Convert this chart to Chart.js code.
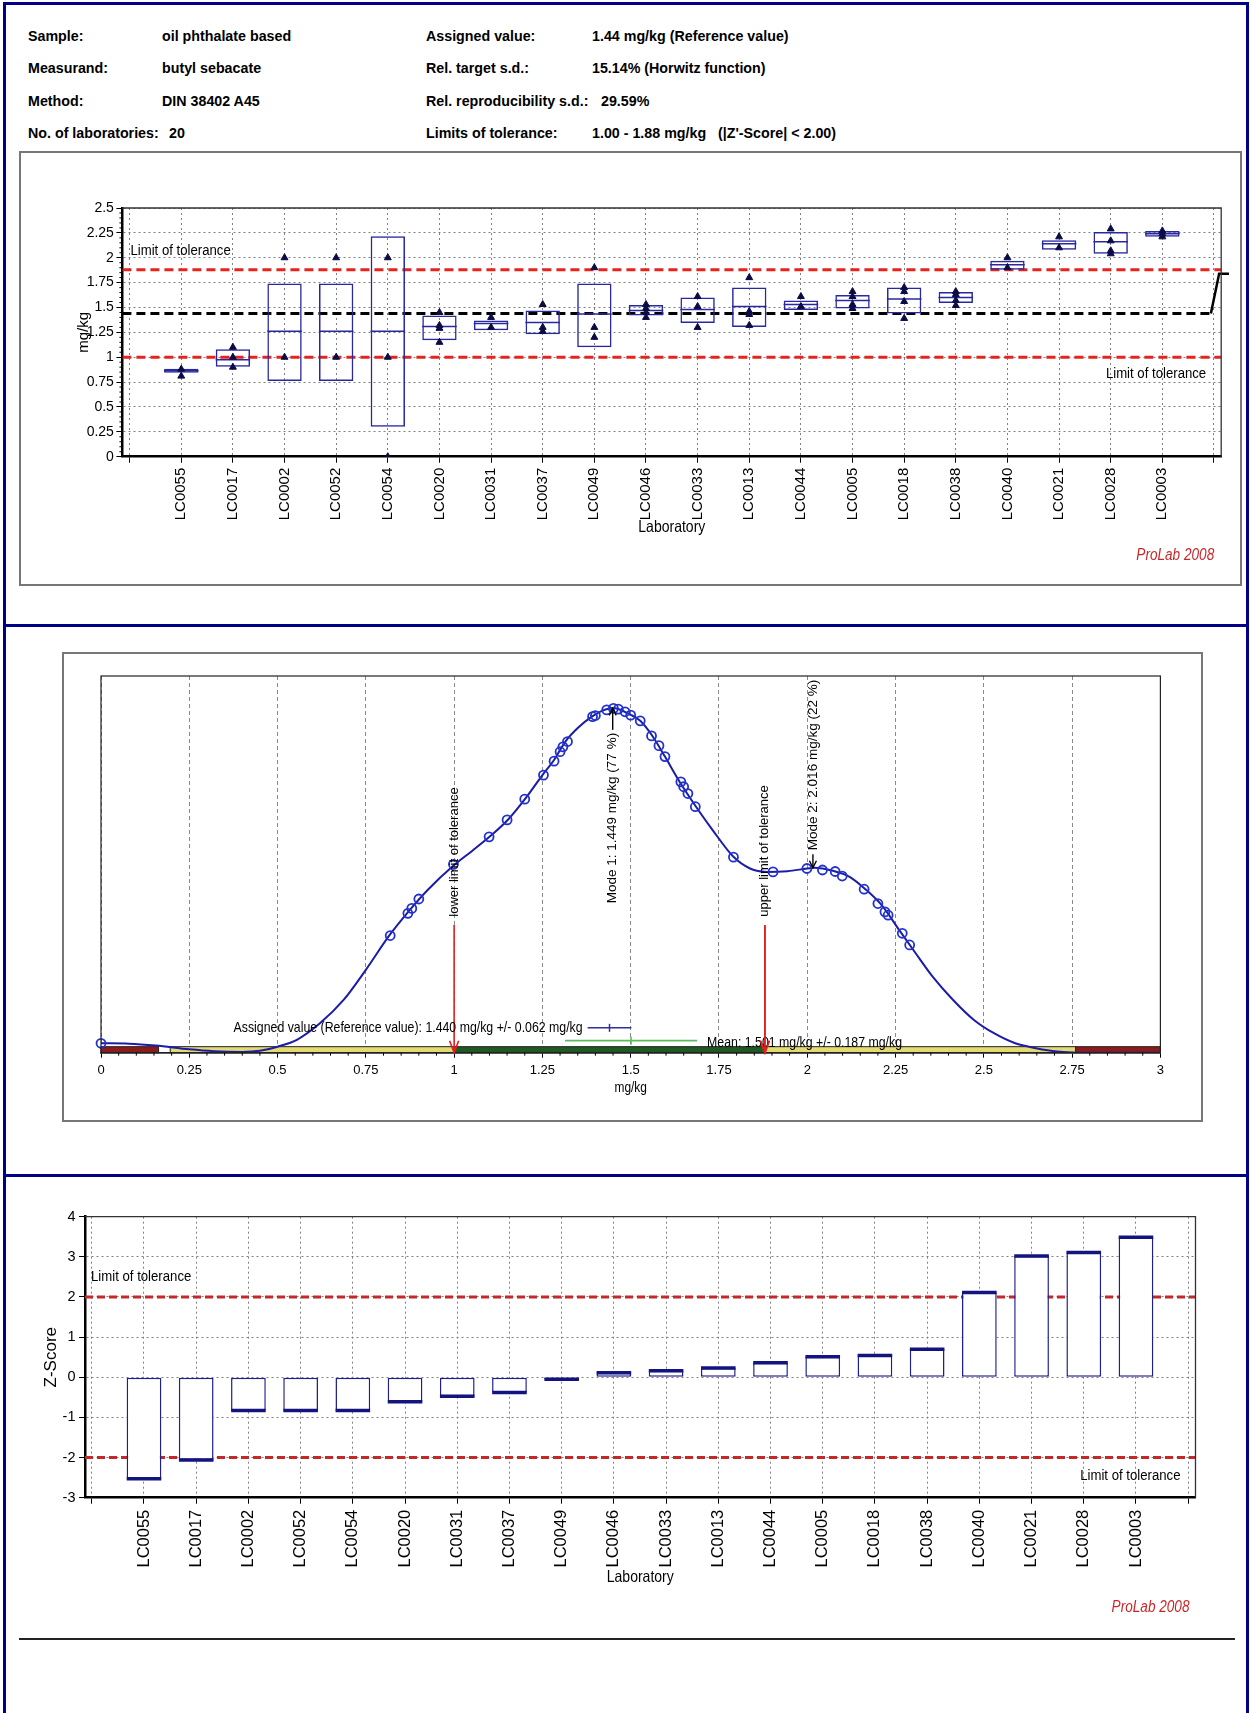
<!DOCTYPE html>
<html lang="en"><head><meta charset="utf-8"><title>ProLab 2008 - butyl sebacate</title>
<script src="https://cdn.jsdelivr.net/npm/chart.js@4.4.0/dist/chart.umd.min.js"></script>
<style>
html,body{margin:0;padding:0;background:#fff;}
body{position:relative;width:1251px;height:1713px;overflow:hidden;}
.box{position:absolute;box-sizing:border-box;}
.hdr{position:absolute;font-family:'Liberation Sans',Arial,sans-serif;font-weight:bold;font-size:15.5px;line-height:20px;white-space:pre;color:#000;transform:scaleX(0.92);transform-origin:0 50%;}
canvas{position:absolute;}
</style></head><body>
<div class="box" style="left:3px;top:2px;width:1246px;height:1730px;border:3px solid #00008B;border-bottom:none"></div>
<div class="box" style="left:3px;top:624px;width:1246px;height:3px;background:#00008B"></div>
<div class="box" style="left:3px;top:1174px;width:1246px;height:3px;background:#00008B"></div>
<div class="box" style="left:19px;top:151px;width:1223px;height:435px;border:2px solid #777"></div>
<div class="box" style="left:62px;top:652px;width:1141px;height:470px;border:2px solid #777"></div>
<div class="box" style="left:19px;top:1638px;width:1216px;height:2px;background:#222"></div>

<div class="hdr" style="left:28px;top:26px">Sample:</div>
<div class="hdr" style="left:162px;top:26px">oil phthalate based</div>
<div class="hdr" style="left:426px;top:26px">Assigned value:</div>
<div class="hdr" style="left:592px;top:26px">1.44 mg/kg (Reference value)</div>
<div class="hdr" style="left:28px;top:58px">Measurand:</div>
<div class="hdr" style="left:162px;top:58px">butyl sebacate</div>
<div class="hdr" style="left:426px;top:58px">Rel. target s.d.:</div>
<div class="hdr" style="left:592px;top:58px">15.14% (Horwitz function)</div>
<div class="hdr" style="left:28px;top:91px">Method:</div>
<div class="hdr" style="left:162px;top:91px">DIN 38402 A45</div>
<div class="hdr" style="left:426px;top:91px">Rel. reproducibility s.d.:</div>
<div class="hdr" style="left:601px;top:91px">29.59%</div>
<div class="hdr" style="left:28px;top:123px">No. of laboratories:</div>
<div class="hdr" style="left:169px;top:123px">20</div>
<div class="hdr" style="left:426px;top:123px">Limits of tolerance:</div>
<div class="hdr" style="left:592px;top:123px">1.00 - 1.88 mg/kg   (|Z'-Score| &lt; 2.00)</div>

<canvas id="c1" width="1218" height="428" style="left:22px;top:155px"></canvas>
<canvas id="c2" width="1128" height="462" style="left:70px;top:656px"></canvas>
<canvas id="c3" width="1218" height="440" style="left:22px;top:1185px"></canvas>

<script>
// ---------------- data ----------------
const labs = ['LC0055','LC0017','LC0002','LC0052','LC0054','LC0020','LC0031','LC0037','LC0049','LC0046',
              'LC0033','LC0013','LC0044','LC0005','LC0018','LC0038','LC0040','LC0021','LC0028','LC0003'];
const boxLow  = [0.845,0.905,0.76,0.76,0.30,1.17,1.27,1.23,1.10,1.42,1.345,1.305,1.475,1.49,1.44,1.545,1.88,2.08,2.04,2.21];
const boxHigh = [0.885,1.08,1.74,1.74,2.215,1.42,1.37,1.47,1.74,1.525,1.60,1.70,1.57,1.625,1.70,1.655,1.97,2.175,2.26,2.27];
const boxMid  = [0.865,0.975,1.26,1.26,1.26,1.31,1.34,1.35,1.435,1.47,1.48,1.51,1.53,1.57,1.585,1.60,1.93,2.14,2.16,2.24];
const labValues = [[0.88,0.81],[1.10,1.00,0.90],[2.00,1.00],[2.00,1.00],[2.00,1.00,0.00],[1.45,1.32,1.29,1.15],
                   [1.40,1.30],[1.53,1.30,1.26],[1.90,1.30,1.20],[1.53,1.49,1.45,1.40],[1.61,1.51,1.30],
                   [1.80,1.46,1.43,1.32],[1.61,1.51],[1.66,1.61,1.53,1.49],[1.70,1.66,1.56,1.39],
                   [1.66,1.63,1.57,1.52],[2.00,1.90],[2.21,2.10],[2.29,2.17,2.07,2.04],[2.27,2.24,2.21]];
const toleranceLimits = [1.00, 1.88];
const assignedValue = 1.44;
const assignedUnc = 0.062;
const meanValue = 1.501;
const meanUnc = 0.187;
const assignedTailX = [20.94, 21.10, 21.29];
const assignedTailY = [1.44, 1.84, 1.84];
const labTickPositions = [0,1,2,3,4,5,6,7,8,9,10,11,12,13,14,15,16,17,18,19,20,21];
const yTicksTop = [0,0.25,0.5,0.75,1,1.25,1.5,1.75,2,2.25,2.5];

// kernel density curve (relative height)
const densityX = [0,0.08,0.155,0.25,0.32,0.40,0.45,0.50,0.556,0.62,0.687,0.75,0.817,0.87,0.925,1.00,1.05,1.10,1.153,1.202,
                  1.25,1.283,1.315,1.35,1.39,1.42,1.449,1.50,1.527,1.562,1.597,1.638,1.685,1.732,1.791,1.838,1.885,1.944,
                  2.00,2.02,2.073,2.12,2.167,2.214,2.26,2.307,2.355,2.413,2.472,2.53,2.589,2.648,2.707,2.765,2.85,3.00];
const densityY = [0.025,0.024,0.019,0.009,0.004,0.002,0.005,0.016,0.035,0.078,0.14,0.22,0.312,0.374,0.432,0.498,0.535,0.573,0.619,0.675,
                  0.737,0.777,0.826,0.862,0.892,0.908,0.915,0.897,0.881,0.84,0.786,0.72,0.653,0.591,0.52,0.489,0.48,0.482,
                  0.489,0.491,0.483,0.467,0.432,0.388,0.326,0.264,0.202,0.14,0.087,0.051,0.025,0.012,0.003,0,0,0];
const circleX = [0.0,0.819,0.869,0.88,0.90,0.998,1.099,1.15,1.20,1.253,1.283,1.30,1.308,1.321,1.392,1.40,1.432,1.451,1.465,1.484,
                 1.50,1.527,1.559,1.58,1.597,1.642,1.65,1.662,1.683,1.791,1.903,1.999,2.043,2.079,2.099,2.161,2.20,2.22,2.229,2.269,2.29];
const circleY = [0.025,0.311,0.37,0.383,0.408,0.50,0.573,0.618,0.673,0.737,0.774,0.799,0.812,0.826,0.892,0.895,0.91,0.914,0.912,0.905,
                 0.896,0.881,0.841,0.815,0.786,0.719,0.706,0.688,0.653,0.519,0.48,0.489,0.485,0.481,0.469,0.434,0.396,0.374,0.365,0.317,0.286];
const bandFrom = [0, 0.196, 1.00, 1.88, 2.76];
const bandTo   = [0.163, 1.00, 1.88, 2.76, 3.00];
const bandColors = ['#8E1B1B','#E4DA72','#1F5A22','#E4DA72','#8E1B1B'];
const modeX = [1.449, 2.016];
const modeDensity = [0.914, 0.491];
const modeArrowTail = [0.857, 0.527];
const modeLabels = ['Mode 1: 1.449 mg/kg (77 %)', 'Mode 2: 2.016 mg/kg (22 %)'];
const limitLabels = ['lower limit of tolerance', 'upper limit of tolerance'];
const xTicksMid = [0,0.25,0.5,0.75,1,1.25,1.5,1.75,2,2.25,2.5,2.75,3];

// z-scores
const zScores = [-2.53,-2.06,-0.83,-0.83,-0.83,-0.61,-0.47,-0.38,-0.05,0.11,0.16,0.23,0.36,0.51,0.54,0.70,2.11,3.02,3.11,3.49];
const zLimits = [-2, 2];
const zTicks = [-3,-2,-1,0,1,2,3,4];

// ---------------- helpers ----------------
const FR = "'Liberation Sans', Arial, 'DejaVu Sans', sans-serif";
Chart.defaults.font.family = FR;
Chart.defaults.color = '#000';
const NAVY = '#2828A0';
const SX = 0.85; // the original's lettering is horizontally condensed
const fmt = v => String(+(+v).toFixed(2));

function vArrow(ctx, x, yTail, yTip, headLen, headHalf) {
  ctx.beginPath(); ctx.moveTo(x, yTail); ctx.lineTo(x, yTip); ctx.stroke();
  const d = yTip > yTail ? -1 : 1;
  ctx.beginPath(); ctx.moveTo(x - headHalf, yTip + d * headLen); ctx.lineTo(x, yTip); ctx.lineTo(x + headHalf, yTip + d * headLen); ctx.stroke();
}
function vText(ctx, t, x, y, align) {
  ctx.save(); ctx.translate(x, y); ctx.rotate(-Math.PI / 2);
  ctx.textAlign = align; ctx.textBaseline = 'middle'; ctx.fillText(t, 0, 0); ctx.restore();
}
function hText(ctx, t, x, y, align) {
  ctx.save(); ctx.translate(x, y); ctx.scale(SX, 1);
  ctx.textAlign = align; ctx.textBaseline = 'middle'; ctx.fillText(t, 0, 0); ctx.restore();
}
function hLines(chart, values, color, width, dash) {
  const {ctx, chartArea: a, scales: {y}} = chart;
  ctx.save();
  ctx.beginPath(); ctx.rect(a.left, a.top, a.right - a.left, a.bottom - a.top); ctx.clip();
  ctx.strokeStyle = color; ctx.lineWidth = width; ctx.setLineDash(dash);
  values.forEach(v => { const py = y.getPixelForValue(v); ctx.beginPath(); ctx.moveTo(a.left, py); ctx.lineTo(a.right, py); ctx.stroke(); });
  ctx.restore();
}
function frameTR(chart) {
  const {ctx, chartArea: a} = chart;
  ctx.save(); ctx.strokeStyle = '#333'; ctx.lineWidth = 1.3;
  ctx.beginPath(); ctx.moveTo(a.left, a.top); ctx.lineTo(a.right, a.top); ctx.lineTo(a.right, a.bottom); ctx.stroke();
  ctx.restore();
}
const baseOpts = {responsive:false, maintainAspectRatio:false, animation:false, devicePixelRatio:1, events:[],
  plugins:{legend:{display:false}, tooltip:{enabled:false}}};

// ---------------- chart 1: results per laboratory ----------------
const topDecor = {
  id: 'topDecor',
  beforeDatasetsDraw(chart) {
    hLines(chart, toleranceLimits, '#E8231E', 3, [9, 5]);
    const {ctx, chartArea: a, scales: {x, y}} = chart;
    ctx.save();
    ctx.strokeStyle = '#000'; ctx.lineWidth = 3; ctx.setLineDash([9, 5]);
    const py = y.getPixelForValue(assignedValue);
    ctx.beginPath(); ctx.moveTo(a.left, py); ctx.lineTo(x.getPixelForValue(assignedTailX[0]), py); ctx.stroke();
    ctx.setLineDash([]); ctx.lineWidth = 2.5;
    ctx.beginPath(); ctx.moveTo(x.getPixelForValue(assignedTailX[0]), y.getPixelForValue(assignedTailY[0]));
    for (let i = 1; i < assignedTailX.length; i++) ctx.lineTo(x.getPixelForValue(assignedTailX[i]), y.getPixelForValue(assignedTailY[i]));
    ctx.stroke();
    ctx.restore();
  },
  afterDraw(chart) {
    frameTR(chart);
    const {ctx, chartArea: a, scales: {y}} = chart;
    ctx.save();
    ctx.strokeStyle = '#000'; ctx.lineWidth = 1;
    for (let k = 1; k < 50; k++) { if (k % 5 === 0) continue; const py = y.getPixelForValue(k * 0.05);
      ctx.beginPath(); ctx.moveTo(a.left - 3, py); ctx.lineTo(a.left, py); ctx.stroke(); }
    ctx.fillStyle = '#000';
    ctx.font = `15.5px ${FR}`;
    hText(ctx, 'Limit of tolerance', a.left + 8, y.getPixelForValue(toleranceLimits[1]) - 19, 'left');
    hText(ctx, 'Limit of tolerance', a.right - 15, y.getPixelForValue(toleranceLimits[0]) + 16, 'right');
    ctx.font = `15px ${FR}`; vText(ctx, 'mg/kg', a.left - 39, (a.top + a.bottom) / 2, 'center');
    ctx.font = `16.5px ${FR}`; hText(ctx, 'Laboratory', (a.left + a.right) / 2, a.bottom + 71, 'center');
    ctx.font = `italic 16px ${FR}`; ctx.fillStyle = '#C8282A';
    hText(ctx, 'ProLab 2008', a.right - 7, a.bottom + 99, 'right');
    ctx.restore();
  }
};

new Chart(document.getElementById('c1'), {
  type: 'bar',
  data: {datasets: [
    {type:'bar', data: labs.map((l, i) => ({x: i + 1, y: [boxLow[i], boxHigh[i]]})),
     backgroundColor:'rgba(255,255,255,0)', borderColor: NAVY, borderWidth:1.5, borderSkipped:false,
     barPercentage:1, categoryPercentage:0.665, order:3},
    {type:'scatter', data: labs.map((l, i) => ({x: i + 1, y: boxMid[i]})),
     pointStyle:'line', pointRadius:17.3, pointBorderWidth:1.5, pointBorderColor: NAVY, order:2},
    {type:'scatter', data: labValues.flatMap((vals, i) => vals.map(v => ({x: i + 1, y: v}))),
     pointStyle:'triangle', pointRadius:4, pointBackgroundColor:'#0B0B45', pointBorderColor:'#0B0B45', pointBorderWidth:1, order:1}
  ]},
  options: Object.assign({}, baseOpts, {
    layout: {padding: {left:0, right:13, top:53, bottom:0}},
    scales: {
      x: {type:'linear', min:-0.14, max:21.14, offset:false,
        afterBuildTicks: s => { s.ticks = labTickPositions.map(v => ({value: v})); },
        afterFit: s => { s.height = 126.3; },
        ticks: {autoSkip:false, minRotation:90, maxRotation:90, padding:5, color:'#000', font:{family:FR, size:15},
                callback: v => labs[v - 1] || ''},
        grid: {offset:false, color:'#808080', lineWidth:1, tickLength:6, tickColor:'#000', tickWidth:1, tickBorderDash:[]},
        border: {display:true, color:'#000', width:2.5, dash:[2,3]}},
      y: {type:'linear', min:0, max:2.5,
        afterBuildTicks: s => { s.ticks = yTicksTop.map(v => ({value: v})); },
        afterFit: s => { s.width = 100.4; },
        ticks: {padding:2.5, color:'#000', font:{family:FR, size:14}, callback: v => fmt(v)},
        grid: {color:'#808080', lineWidth:1, tickLength:6, tickColor:'#000', tickWidth:1, tickBorderDash:[]},
        border: {display:true, color:'#000', width:2.5, dash:[2,3]}}
    }
  }),
  plugins: [topDecor]
});

// ---------------- chart 2: kernel density ----------------
const midDecor = {
  id: 'midDecor',
  beforeDatasetsDraw(chart) {
    const {ctx, scales: {x, y}} = chart;
    ctx.save();
    const y0 = y.getPixelForValue(0.016), y1 = y.getPixelForValue(0);
    ctx.strokeStyle = '#222'; ctx.lineWidth = 1;
    for (let i = 0; i < bandFrom.length; i++) {
      const x0 = x.getPixelForValue(bandFrom[i]), x1 = x.getPixelForValue(bandTo[i]);
      ctx.fillStyle = bandColors[i]; ctx.fillRect(x0, y0, x1 - x0, y1 - y0);
      ctx.strokeRect(x0, y0, x1 - x0, y1 - y0);
    }
    ctx.restore();
  },
  afterDraw(chart) {
    const {ctx, chartArea: a, scales: {x, y}} = chart;
    ctx.save();
    ctx.strokeStyle = '#222'; ctx.lineWidth = 1.2; ctx.strokeRect(a.left, a.top, a.right - a.left, a.bottom - a.top);
    ctx.lineWidth = 1; ctx.strokeStyle = '#000';
    for (let k = 1; k < 60; k++) { if (k % 5 === 0) continue; const px = x.getPixelForValue(k * 0.05);
      ctx.beginPath(); ctx.moveTo(px, a.bottom); ctx.lineTo(px, a.bottom + 3); ctx.stroke(); }
    // tolerance arrows + labels
    ctx.strokeStyle = '#E02020'; ctx.lineWidth = 1.6;
    toleranceLimits.forEach(v => vArrow(ctx, x.getPixelForValue(v), y.getPixelForValue(0.339), y.getPixelForValue(0), 12, 4.5));
    ctx.fillStyle = '#000'; ctx.font = `13px ${FR}`;
    limitLabels.forEach((t, i) => vText(ctx, t, x.getPixelForValue(toleranceLimits[i]), y.getPixelForValue(0.361), 'left'));
    // modes
    ctx.font = `13.5px ${FR}`;
    ctx.strokeStyle = '#000'; ctx.lineWidth = 1.4;
    vArrow(ctx, x.getPixelForValue(modeX[0]), y.getPixelForValue(modeArrowTail[0]), y.getPixelForValue(modeDensity[0]), 7, 3.5);
    vText(ctx, modeLabels[0], x.getPixelForValue(modeX[0]), y.getPixelForValue(modeArrowTail[0]) + 3, 'right');
    vArrow(ctx, x.getPixelForValue(modeX[1]), y.getPixelForValue(modeArrowTail[1]), y.getPixelForValue(modeDensity[1]), 7, 3.5);
    vText(ctx, modeLabels[1], x.getPixelForValue(modeX[1]), y.getPixelForValue(modeArrowTail[1]) - 4, 'left');
    // assigned value bar
    const ay = y.getPixelForValue(0.066);
    const aLo = x.getPixelForValue(assignedValue - assignedUnc), aHi = x.getPixelForValue(assignedValue + assignedUnc);
    ctx.strokeStyle = '#3030A0'; ctx.lineWidth = 1.5;
    ctx.beginPath(); ctx.moveTo(aLo, ay); ctx.lineTo(aHi, ay); ctx.stroke();
    const ac = x.getPixelForValue(assignedValue);
    ctx.beginPath(); ctx.moveTo(ac, ay - 4); ctx.lineTo(ac, ay + 4); ctx.stroke();
    ctx.font = `14.5px ${FR}`;
    hText(ctx, 'Assigned value (Reference value): 1.440 mg/kg +/- 0.062 mg/kg', aLo - 5, ay, 'right');
    // mean bar
    const my = y.getPixelForValue(0.032);
    const mLo = x.getPixelForValue(meanValue - meanUnc), mHi = x.getPixelForValue(meanValue + meanUnc);
    ctx.strokeStyle = '#5DBB5D'; ctx.lineWidth = 1.6;
    ctx.beginPath(); ctx.moveTo(mLo, my); ctx.lineTo(mHi, my); ctx.stroke();
    const mc = x.getPixelForValue(meanValue);
    ctx.beginPath(); ctx.moveTo(mc, my - 4); ctx.lineTo(mc, my + 4); ctx.stroke();
    hText(ctx, 'Mean: 1.501 mg/kg +/- 0.187 mg/kg', mHi + 10, y.getPixelForValue(0.026), 'left');
    // the upper tolerance arrow runs over the mean text, as in the original
    ctx.strokeStyle = '#E02020'; ctx.lineWidth = 1.6;
    vArrow(ctx, x.getPixelForValue(toleranceLimits[1]), y.getPixelForValue(0.339), y.getPixelForValue(0), 12, 4.5);
    ctx.font = `14px ${FR}`;
    hText(ctx, 'mg/kg', (a.left + a.right) / 2, a.bottom + 35, 'center');
    ctx.restore();
  }
};

new Chart(document.getElementById('c2'), {
  type: 'line',
  data: {datasets: [
    {type:'line', data: densityX.map((v, i) => ({x: v, y: densityY[i]})), borderColor:'#1C1CA8', borderWidth:2,
     pointRadius:0, cubicInterpolationMode:'monotone', fill:false, order:2},
    {type:'scatter', data: circleX.map((v, i) => ({x: v, y: circleY[i]})), pointStyle:'circle', pointRadius:4.5,
     pointBorderWidth:1.8, pointBorderColor:'#2233CC', pointBackgroundColor:'rgba(0,0,0,0)', clip:8, order:1}
  ]},
  options: Object.assign({}, baseOpts, {
    layout: {padding: {left:31, right:37.6, top:20, bottom:0}},
    scales: {
      x: {type:'linear', min:0, max:3,
        afterBuildTicks: s => { s.ticks = xTicksMid.map(v => ({value: v})); },
        afterFit: s => { s.height = 65.3; },
        ticks: {autoSkip:false, maxRotation:0, padding:5, color:'#000', font:{family:FR, size:13}, callback: v => fmt(v)},
        grid: {color:'#8a8a8a', lineWidth:1, tickLength:5, tickColor:'#000', tickWidth:1, tickBorderDash:[]},
        border: {display:true, color:'#000', width:1.5, dash:[4,3]}},
      y: {type:'linear', display:false, min:0, max:1}
    }
  }),
  plugins: [midDecor]
});

// ---------------- chart 3: z-scores ----------------
const zDecor = {
  id: 'zDecor',
  beforeDatasetsDraw(chart) { hLines(chart, zLimits, '#C42828', 3, [8, 4]); },
  afterDraw(chart) {
    frameTR(chart);
    const {ctx, chartArea: a, scales: {y}} = chart;
    ctx.save();
    ctx.fillStyle = '#000'; ctx.font = `15.5px ${FR}`;
    hText(ctx, 'Limit of tolerance', a.left + 6, y.getPixelForValue(zLimits[1]) - 20, 'left');
    hText(ctx, 'Limit of tolerance', a.right - 15, y.getPixelForValue(zLimits[0]) + 18, 'right');
    ctx.font = `17px ${FR}`; vText(ctx, 'Z-Score', a.left - 34, (a.top + a.bottom) / 2, 'center');
    ctx.font = `16.5px ${FR}`; hText(ctx, 'Laboratory', (a.left + a.right) / 2, a.bottom + 80, 'center');
    ctx.font = `italic 16px ${FR}`; ctx.fillStyle = '#C8282A';
    hText(ctx, 'ProLab 2008', a.right - 6, a.bottom + 110, 'right');
    ctx.restore();
  }
};

new Chart(document.getElementById('c3'), {
  type: 'bar',
  data: {datasets: [
    {type:'bar', data: zScores.map((z, i) => ({x: i + 1, y: [0, z]})), backgroundColor:'#fff', borderColor:'#1F1F8F',
     borderWidth:1.5, borderSkipped:false, barPercentage:1, categoryPercentage:0.665, order:2},
    {type:'scatter', data: zScores.map((z, i) => ({x: i + 1, y: z})), pointStyle:'line', pointRadius:17.3,
     pointBorderWidth:3.5, pointBorderColor:'#141480', order:1}
  ]},
  options: Object.assign({}, baseOpts, {
    layout: {padding: {left:0, right:44.5, top:31.7, bottom:0}},
    scales: {
      x: {type:'linear', min:-0.13, max:21.14, offset:false,
        afterBuildTicks: s => { s.ticks = labTickPositions.map(v => ({value: v})); },
        afterFit: s => { s.height = 127.3; },
        ticks: {autoSkip:false, minRotation:90, maxRotation:90, padding:6, color:'#000', font:{family:FR, size:16.5},
                callback: v => labs[v - 1] || ''},
        grid: {offset:false, color:'#808080', lineWidth:1, tickLength:6, tickColor:'#000', tickWidth:1, tickBorderDash:[]},
        border: {display:true, color:'#000', width:2.5, dash:[2,3]}},
      y: {type:'linear', min:-3, max:4,
        afterBuildTicks: s => { s.ticks = zTicks.map(v => ({value: v})); },
        afterFit: s => { s.width = 63; },
        ticks: {padding:3.5, color:'#000', font:{family:FR, size:14.5}, callback: v => fmt(v)},
        grid: {color:'#808080', lineWidth:1, tickLength:6, tickColor:'#000', tickWidth:1, tickBorderDash:[]},
        border: {display:true, color:'#000', width:2.5, dash:[2,3]}}
    }
  }),
  plugins: [zDecor]
});
</script>
</body></html>
